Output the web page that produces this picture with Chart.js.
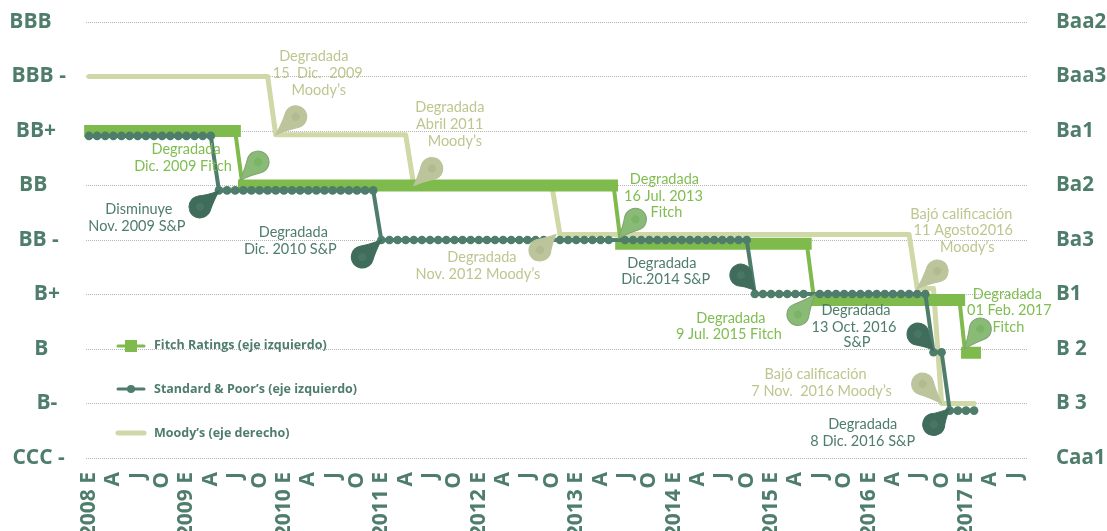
<!DOCTYPE html>
<html lang="es">
<head>
<meta charset="utf-8">
<title>Calificaciones</title>
<script src="https://cdn.jsdelivr.net/npm/chart.js@4/dist/chart.umd.min.js"></script>
<style>
  html, body { margin: 0; padding: 0; background: #fff; overflow: hidden; }
  #wrap { position: relative; width: 1107px; height: 531px; }
</style>
</head>
<body>
<div id="wrap"><canvas id="ratingsChart"></canvas></div>
<script>
// rating levels, bottom to top
const leftLabels = ['CCC -', 'B-', 'B', 'B+', 'BB -', 'BB', 'BB+', 'BBB -', 'BBB'];
const rightLabels = ['Caa1', 'B 3', 'B 2', 'B1', 'Ba3', 'Ba2', 'Ba1', 'Baa3', 'Baa2'];

// months since Jan 2008, one label per quarter
const tickMonths = [0, 3, 6, 9, 12, 15, 18, 21, 24, 27, 30, 33, 36, 39, 42, 45, 48, 51, 54, 57,
  60, 63, 66, 69, 72, 75, 78, 81, 84, 87, 90, 93, 96, 99, 102, 105, 108, 111, 114];
const tickLabels = ['2008 E', 'A', 'J', 'O', '2009 E', 'A', 'J', 'O', '2010 E', 'A', 'J', 'O',
  '2011 E', 'A', 'J', 'O', '2012 E', 'A', 'J', 'O', '2013 E', 'A', 'J', 'O', '2014 E', 'A', 'J', 'O',
  '2015 E', 'A', 'J', 'O', '2016 E', 'A', 'J', 'O', '2017 E', 'A', 'J'];

// Fitch: thick runs at one level, thin drops between them
const fitchMonths = [-0.6, 18.7, 18, 18.9, 18.35, 65.15, 64.6, 65.5, 64.8, 89, 88.4, 89.3, 88.8, 107.9, 107.2, 107.9, 107.4, 109.85];
const fitchLevels = [6, 6, 6, 5, 5, 5, 5, 3.93, 3.93, 3.93, 3.93, 2.9, 2.9, 2.9, 2.9, 1.93, 1.93, 1.93];

// S&P: one value per month, null where the reference shows no dot
const spLevels = [
  5.91, 5.91, 5.91, 5.91, 5.91, 5.91, 5.91, 5.91, 5.91, 5.91, 5.91, 5.91, 5.91, 5.91, 5.91, 5.91,
  4.91, 4.91, 4.91, 4.91, 4.91, 4.91, 4.91, 4.91, 4.91, 4.91, 4.91, 4.91, 4.91, 4.91, 4.91, 4.91, 4.91, 4.91, 4.91, 4.91,
  4, 4, 4, 4, 4, 4, 4, 4, 4, 4, 4, 4, 4, 4, 4, 4, 4, 4, 4, 4, 4,
  null, 4, 4, 4, 4, 4, 4, 4, null, 4, 4, 4, 4, 4, 4, 4, 4, 4, 4, 4, 4, 4, 4, 4, 4,
  3.01, 3.01, 3.01, 3.01, 3.01, 3.01, 3.01, null, 3.01, 3.01, 3.01, 3.01, 3.01, 3.01, 3.01, 3.01, 3.01, 3.01, 3.01, 3.01, 3.01, 3.01,
  1.94, 1.94,
  0.87, 0.87, 0.87, 0.87
];

const moodysMonths = [0, 22, 23, 39, 40, 57, 58, 101, 102, 104, 105, 109];
const moodysLevels = [7, 7, 5.93, 5.93, 5, 5, 4.1, 4.1, 3.11, 3.11, 1, 1];

const seriesNames = ['Fitch Ratings (eje izquierdo)', 'Standard & Poor’s (eje izquierdo)', 'Moody’s (eje derecho)'];

const colors = {
  fitch: '#7fba4c', fitchText: '#7fbd50', sp: '#4f7d6c', moodys: '#d0d8a8', moodysText: '#bcc78f', grid: '#b4b4b4'
};
const pinStyles = {
  fitch: { fill: '#8abb76', edge: '#7fa373', dot: '#7ab566', text: colors.fitchText },
  sp: { fill: '#3f6c5b', edge: '#3f6c5b', dot: '#497565', text: colors.sp },
  moodys: { fill: '#bcc49c', edge: '#bcc49c', dot: '#b2ba92', text: colors.moodysText }
};

// the hand-set left labels sit off centre: spaces before / after each one
const leftPadBefore = [0, 3, 1, 3, 0, 0, 0, 0, 0];
const leftPadAfter = [0, 0, 0, 0, 0, 2, 1, 0, 3];

// callouts: tip sits on the series (month, level), head and text are pixel offsets from the tip
const callouts = [
  { s: 'moodys', m: 23, l: 5.93, hx: 20, hy: -18, text: [['Degradada', 38, -78], ['15  Dic.  2009', 42, -61], ['Moody’s', 43, -44]] },
  { s: 'fitch', m: 18.6, l: 5.1, hx: 18, hy: -18, text: [['Degradada', -54, -31], ['Dic. 2009 Fitch', -57, -14]] },
  { s: 'sp', m: 16, l: 4.9, hx: -19, hy: 16, text: [['Disminuye', -80, 18], ['Nov. 2009 S&P', -82, 35]] },
  { s: 'sp', m: 36, l: 4, hx: -19, hy: 17, text: [['Degradada', -88, -8], ['Dic. 2010 S&P', -91, 9]] },
  { s: 'moodys', m: 40, l: 5, hx: 18, hy: -17, text: [['Degradada', 36, -78], ['Abril 2011', 36, -61], ['Moody’s', 41, -44]] },
  { s: 'moodys', m: 57.5, l: 4.1, hx: -16, hy: 15.5, text: [['Degradada', -74, 22.5], ['Nov. 2012 Moody’s', -78, 39.5]] },
  { s: 'fitch', m: 65.2, l: 4.03, hx: 17, hy: -19, text: [['Degradada', 46, -59], ['16 Jul. 2013', 45, -42], ['Fitch', 48, -26]] },
  { s: 'sp', m: 82, l: 3.08, hx: -14, hy: -15, text: [['Degradada', -93, -27], ['Dic.2014 S&P', -89, -11]] },
  { s: 'fitch', m: 89.4, l: 3, hx: -17, hy: 20, text: [['Degradada', -84, 24], ['9 Jul. 2015 Fitch', -86, 40]] },
  { s: 'moodys', m: 102, l: 3.11, hx: 20, hy: -17.5, text: [['Bajó calificación', 44, -74], ['11 Agosto2016', 46, -58], ['Moody’s', 50, -41]] },
  { s: 'sp', m: 104, l: 1.98, hx: -15.5, hy: -16, text: [['Degradada', -77.5, -40], ['13 Oct. 2016', -79.5, -23], ['S&P', -76.5, -8]] },
  { s: 'moodys', m: 105, l: 1, hx: -19, hy: -19.5, text: [['Bajó calificación', -126, -29], ['7 Nov.  2016 Moody’s', -120, -12]] },
  { s: 'sp', m: 106, l: 0.91, hx: -16, hy: 16, text: [['Degradada', -87, 16], ['8 Dic. 2016 S&P', -87, 33]] },
  { s: 'fitch', m: 107.8, l: 2, hx: 16, hy: -20, text: [['Degradada', 43, -55], ['01 Feb. 2017', 45, -39], ['Fitch', 44, -22]] }
];

function drawPin(ctx, x, y, hx, hy, style) {
  const r = 11;
  const d = Math.hypot(hx, hy);
  const a = 120 * Math.PI / 180;
  ctx.save();
  ctx.translate(x, y);
  ctx.rotate(Math.atan2(hy, hx));
  ctx.beginPath();
  ctx.moveTo(0, 0);
  ctx.quadraticCurveTo(d * 0.5, -r * 0.45, d + r * Math.cos(a), -r * Math.sin(a));
  ctx.arc(d, 0, r, -a, a);
  ctx.quadraticCurveTo(d * 0.5, r * 0.45, 0, 0);
  ctx.closePath();
  ctx.fillStyle = style.fill;
  ctx.fill();
  ctx.strokeStyle = style.edge;
  ctx.lineWidth = 1;
  ctx.stroke();
  ctx.beginPath();
  ctx.arc(d, 0, 4, 0, Math.PI * 2);
  ctx.fillStyle = style.dot;
  ctx.fill();
  ctx.restore();
}

const calloutPlugin = {
  id: 'callouts',
  afterDatasetsDraw(chart) {
    const { ctx, scales } = chart;
    ctx.save();
    callouts.forEach(c => {
      const x = scales.x.getPixelForValue(c.m);
      const y = scales.y.getPixelForValue(c.l);
      const style = pinStyles[c.s];
      drawPin(ctx, x, y, c.hx, c.hy, style);
      ctx.font = "14.5px Lato, sans-serif";
      ctx.textAlign = 'center';
      ctx.textBaseline = 'middle';
      ctx.fillStyle = style.text;
      c.text.forEach(t => ctx.fillText(t[0], x + t[1], y + t[2]));
    });
    ctx.restore();
  }
};

// the original key sits inside the plot, lower left
const keyPlugin = {
  id: 'key',
  afterDatasetsDraw(chart) {
    const { ctx } = chart;
    const rows = [345, 389, 433];
    ctx.save();
    ctx.lineCap = 'round';
    ctx.font = "bold 12.5px 'Open Sans', sans-serif";
    ctx.textBaseline = 'middle';
    ctx.textAlign = 'left';

    ctx.strokeStyle = colors.fitch;
    ctx.lineWidth = 3;
    ctx.beginPath(); ctx.moveTo(118, rows[0] + 1); ctx.lineTo(144, rows[0] + 1); ctx.stroke();
    ctx.fillStyle = colors.fitch;
    ctx.fillRect(125, rows[0] - 5, 12, 12);

    ctx.strokeStyle = colors.sp;
    ctx.beginPath(); ctx.moveTo(118, rows[1]); ctx.lineTo(144, rows[1]); ctx.stroke();
    ctx.fillStyle = colors.sp;
    ctx.beginPath(); ctx.arc(131, rows[1], 4, 0, Math.PI * 2); ctx.fill();

    ctx.strokeStyle = colors.moodys;
    ctx.lineWidth = 5;
    ctx.beginPath(); ctx.moveTo(118, rows[2]); ctx.lineTo(144, rows[2]); ctx.stroke();

    ctx.fillStyle = colors.sp;
    seriesNames.forEach((name, i) => ctx.fillText(name, 154, rows[i]));
    ctx.restore();
  }
};

// tick padding would otherwise be added above the top gridline
const fitYAxis = width => scale => {
  scale.width = width;
  scale.paddingTop = 0;
  scale.paddingBottom = 0;
};

new Chart(document.getElementById('ratingsChart'), {
  type: 'line',
  data: {
    datasets: [
      {
        label: seriesNames[2],
        yAxisID: 'y1',
        order: 2,
        data: moodysMonths.map((m, i) => ({ x: m, y: moodysLevels[i] })),
        borderColor: colors.moodys,
        borderWidth: 5,
        borderCapStyle: 'round',
        borderJoinStyle: 'round',
        pointRadius: 0,
        tension: 0,
        clip: false
      },
      {
        label: seriesNames[0],
        yAxisID: 'y',
        order: 1,
        data: fitchMonths.map((m, i) => ({ x: m, y: fitchLevels[i] })),
        borderColor: colors.fitch,
        borderWidth: 12,
        pointRadius: 0,
        tension: 0,
        clip: false,
        segment: { borderWidth: ctx => (ctx.p0.parsed.y === ctx.p1.parsed.y ? 12 : 4) }
      },
      {
        label: seriesNames[1],
        yAxisID: 'y',
        order: 0,
        data: spLevels.map((v, i) => ({ x: i, y: v })),
        borderColor: colors.sp,
        backgroundColor: colors.sp,
        borderWidth: 4,
        pointRadius: 4.3,
        pointBorderWidth: 0,
        spanGaps: true,
        tension: 0,
        clip: false
      }
    ]
  },
  options: {
    responsive: true,
    maintainAspectRatio: false,
    animation: false,
    events: [],
    layout: { padding: { top: 22 } },
    plugins: { legend: { display: false }, tooltip: { enabled: false } },
    scales: {
      x: {
        type: 'linear',
        min: -0.37,
        max: 115.64,
        grid: { display: false },
        border: { display: false },
        afterFit: scale => { scale.height = 73; },
        afterBuildTicks: scale => { scale.ticks = tickMonths.map(v => ({ value: v })); },
        ticks: {
          autoSkip: false,
          minRotation: 90,
          maxRotation: 90,
          padding: 6,
          color: colors.sp,
          font: { family: "'Open Sans'", size: 21, weight: 'bold' },
          callback: value => tickLabels[tickMonths.indexOf(value)]
        }
      },
      y: {
        position: 'left',
        min: 0,
        max: 8,
        grid: { color: colors.grid, drawTicks: false },
        border: { display: false, dash: [1, 1] },
        afterFit: fitYAxis(86),
        ticks: {
          stepSize: 1,
          crossAlign: 'center',
          padding: 18,
          color: colors.sp,
          font: { family: "'Open Sans'", size: 21, weight: 'bold' },
          callback: value => ' '.repeat(leftPadBefore[value]) + leftLabels[value] + ' '.repeat(leftPadAfter[value])
        }
      },
      y1: {
        position: 'right',
        min: 0,
        max: 8,
        grid: { display: false, drawTicks: false },
        border: { display: false },
        afterFit: fitYAxis(79),
        ticks: {
          stepSize: 1,
          padding: 28,
          color: colors.sp,
          font: { family: "'Open Sans'", size: 20.5, weight: 'bold' },
          callback: value => rightLabels[value]
        }
      }
    }
  },
  plugins: [keyPlugin, calloutPlugin]
});
</script>
</body>
</html>
